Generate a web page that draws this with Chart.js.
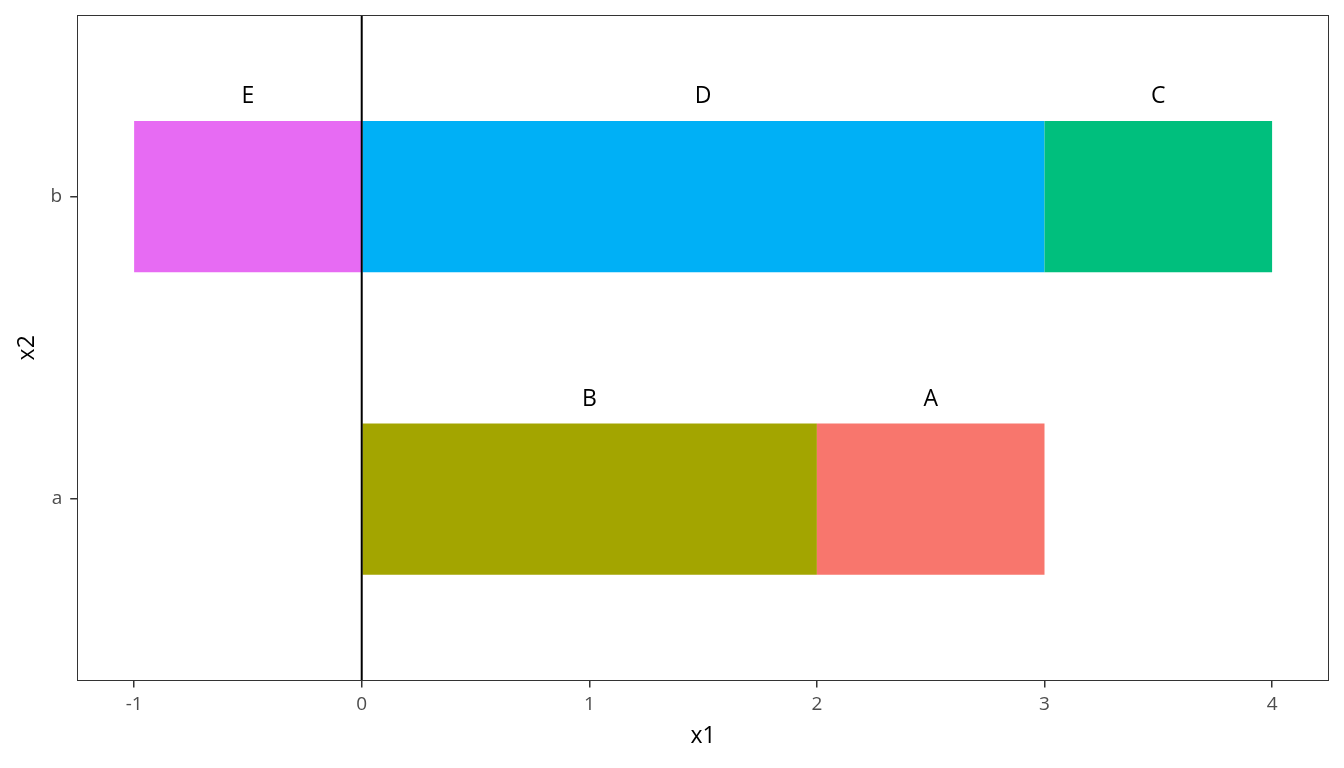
<!DOCTYPE html>
<html>
<head>
<meta charset="utf-8">
<script src="https://cdn.jsdelivr.net/npm/chart.js@4/dist/chart.umd.min.js"></script>
<style>
  html, body { margin: 0; padding: 0; background: #fff; }
  #wrap { width: 1344px; height: 768px; }
</style>
</head>
<body>
<div id="wrap"><canvas id="chart"></canvas></div>
<script>
// === Data ===
const categories = ["a", "b"];            // y positions 1, 2
const segments = ["A", "B", "C", "D", "E"];
const segCategory = ["a", "a", "b", "b", "b"];
const segStart = [2, 0, 3, 0, -1];
const segEnd = [3, 2, 4, 3, 0];
const segColors = ["#F8766D", "#A3A500", "#00BF7D", "#00B0F6", "#E76BF3"];
const xTicks = [-1, 0, 1, 2, 3, 4];

const FONT = "'Open Sans', 'DejaVu Sans', sans-serif";

const datasets = segments.map((name, i) => ({
  label: name,
  data: [{ y: categories.indexOf(segCategory[i]) + 1, x: [segStart[i], segEnd[i]] }],
  backgroundColor: segColors[i],
  borderWidth: 0,
  grouped: false,
  categoryPercentage: 1,
  barPercentage: 0.5
}));

// panel border, zero line and segment labels
const decorations = {
  id: "decorations",
  afterDatasetsDraw(chart) {
    const { ctx, chartArea: a, scales } = chart;
    ctx.save();
    // vertical reference line at x = 0
    const x0 = scales.x.getPixelForValue(0);
    ctx.strokeStyle = "#000";
    ctx.lineWidth = 2;
    ctx.beginPath();
    ctx.moveTo(x0, a.top);
    ctx.lineTo(x0, a.bottom);
    ctx.stroke();

    // labels above each segment
    ctx.fillStyle = "#000";
    ctx.font = "23px " + FONT;
    ctx.textAlign = "center";
    ctx.textBaseline = "middle";
    segments.forEach((name, i) => {
      const cx = scales.x.getPixelForValue((segStart[i] + segEnd[i]) / 2);
      const cy = scales.y.getPixelForValue(categories.indexOf(segCategory[i]) + 1 + 0.33);
      ctx.fillText(name, cx, cy);
    });

    // panel border
    ctx.strokeStyle = "#333333";
    ctx.lineWidth = 1;
    ctx.strokeRect(Math.round(a.left) + 0.5, Math.round(a.top) + 0.5,
      Math.round(a.right - a.left) - 1, Math.round(a.bottom - a.top) - 1);
    ctx.restore();
  }
};

new Chart(document.getElementById("chart"), {
  type: "bar",
  data: { datasets },
  options: {
    indexAxis: "y",
    responsive: true,
    maintainAspectRatio: false,
    animation: false,
    layout: { padding: { left: 14, right: 15, top: 15, bottom: 18 } },
    plugins: {
      legend: { display: false },
      tooltip: { enabled: false }
    },
    scales: {
      x: {
        type: "linear",
        min: -1.25,
        max: 4.25,
        offset: false,
        afterBuildTicks: (s) => { s.ticks = xTicks.map(v => ({ value: v })); },
        grid: { display: true, offset: false, drawOnChartArea: false, drawTicks: true, tickLength: 7, color: "#333333", lineWidth: 1.5 },
        border: { display: false },
        ticks: { color: "#4D4D4D", font: { family: FONT, size: 19 }, padding: 6, maxRotation: 0 },
        title: { display: true, text: "x1", color: "#000", font: { family: FONT, size: 23 }, padding: { top: 0, bottom: 0 } }
      },
      y: {
        type: "linear",
        min: 0.4,
        max: 2.6,
        offset: false,
        afterBuildTicks: (s) => { s.ticks = categories.map((c, i) => ({ value: i + 1 })); },
        afterFit: (s) => { s.paddingTop = 0; s.paddingBottom = 0; },
        grid: { display: true, offset: false, drawOnChartArea: false, drawTicks: true, tickLength: 7, color: "#333333", lineWidth: 1.5 },
        border: { display: false },
        ticks: {
          color: "#4D4D4D", font: { family: FONT, size: 19 }, padding: 8,
          callback: (v) => categories[v - 1] ?? ""
        },
        title: { display: true, text: "x2", color: "#000", font: { family: FONT, size: 23 }, padding: { top: 0, bottom: 1 } }
      }
    }
  },
  plugins: [decorations]
});
</script>
</body>
</html>
